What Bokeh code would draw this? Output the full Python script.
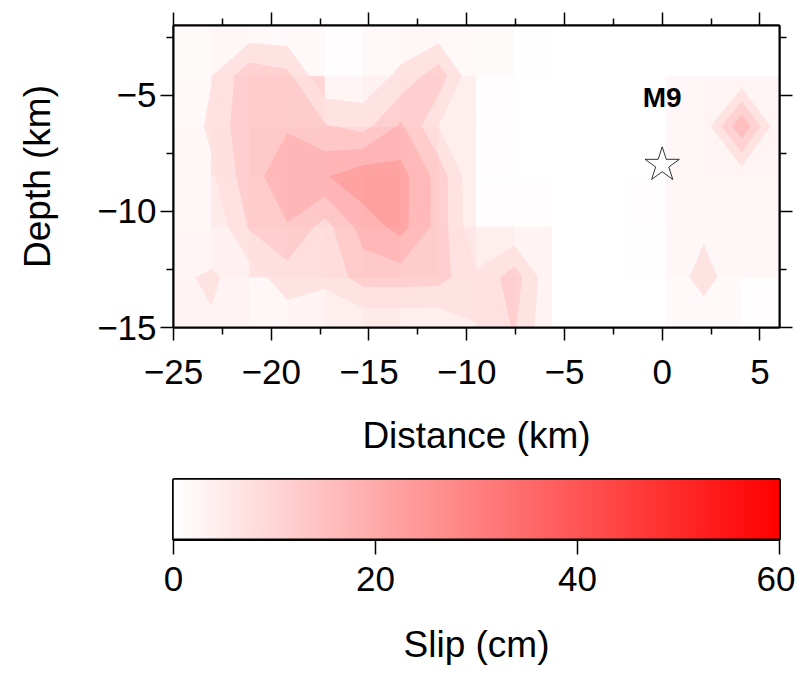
import numpy as np
from bokeh.plotting import figure
from bokeh.models import Range1d, FixedTicker, LinearColorMapper, ColumnDataSource, LinearAxis
from bokeh.layouts import column
from bokeh.transform import linear_cmap
from bokeh.embed import file_html
from bokeh.resources import INLINE
from bokeh.core.properties import value

FONT = "Liberation Sans"

# ---------------- data ----------------
# grid nodes (km)
x_nodes = np.linspace(-25, 6, 17)
depth_nodes = np.linspace(-15, -2, 7)

# slip (cm) at grid nodes, rows from depth -15 (bottom) up to -2 (top)
slip_nodes = [
    [1.5, 4.4, 1.0, 1.7, 1.0, 0.3, 0.3, 0.5, 4.9, 10.5, 0.0, 0.0, 0.0, 0.5, 1.7, 0.5, 0.3],
    [3.9, 5.8, 2.5, 7.7, 6.2, 12.3, 12.4, 12.0, 5.9, 12.5, 0.6, 0.3, 0.5, 1.7, 7.0, 1.5, 0.5],
    [1.0, 0.7, 10.5, 14.7, 8.0, 17.1, 21.8, 13.2, 0.5, 0.6, 0.3, 0.3, 0.5, 2.0, 4.0, 2.0, 0.5],
    [1.0, 4.1, 13.1, 18.0, 19.5, 23.5, 22.0, 13.2, 0.0, 0.3, 0.3, 0.3, 0.5, 1.5, 2.0, 1.5, 0.5],
    [1.0, 6.0, 14.0, 14.5, 10.5, 8.0, 16.0, 5.0, 0.5, 0.3, 0.0, 0.0, 0.3, 1.0, 1.7, 19.5, 0.5],
    [2.0, 4.8, 13.5, 11.5, 0.5, 1.5, 6.2, 13.0, 0.0, 0.0, 0.0, 0.0, 0.0, 0.5, 1.0, 0.5, 0.5],
    [1.0, 1.0, 0.5, 0.5, 0.5, 0.5, 1.0, 0.5, 0.5, 0.3, 0.0, 0.0, 0.0, 0.0, 0.0, 0.0, 0.0],
]

# slip (cm) of the fault patches between nodes, rows from bottom to top
slip_patches = [
    [3.0, 3.0, 2.0, 3.0, 4.0, 5.0, 4.0, 4.0, 5.0, 3.0, 0.0, 0.0, 0.0, 1.5, 1.5, 0.5],
    [2.5, 3.5, 7.0, 10.0, 12.0, 14.0, 10.0, 6.0, 4.0, 3.0, 0.0, 0.0, 0.3, 2.0, 2.0, 2.0],
    [2.0, 5.0, 12.0, 16.0, 18.0, 20.0, 12.0, 4.0, 0.5, 0.5, 0.0, 0.0, 0.7, 2.0, 2.0, 2.0],
    [2.0, 7.0, 14.0, 16.0, 18.0, 18.0, 12.0, 4.0, 0.5, 0.0, 0.0, 0.0, 0.0, 2.0, 2.5, 2.5],
    [1.5, 5.0, 12.0, 10.0, 2.5, 3.5, 6.0, 4.0, 0.5, 0.0, 0.0, 0.0, 0.0, 2.0, 2.5, 2.5],
    [1.2, 2.0, 1.5, 1.5, 0.5, 1.8, 2.0, 1.8, 1.2, 0.3, 0.0, 0.0, 0.0, 0.0, 0.0, 0.0],
]

contour_levels = [5, 10, 15, 20, 25]

event_x = [0.0]
event_depth = [-8.0]
event_label = ["M9"]
label_depth = [-5.1]

x_major = [-25, -20, -15, -10, -5, 0, 5]
x_minor = [-22.5, -17.5, -12.5, -7.5, -2.5, 2.5]
x_tick_labels = ["\u221225", "\u221220", "\u221215", "\u221210", "\u22125", "0", "5"]
y_major = [-15, -10, -5]
y_minor = [-12.5, -7.5, -2.5]
y_tick_labels = ["\u221215", "\u221210", "\u22125"]

cbar_ticks = [0, 20, 40, 60]
cbar_tick_labels = ["0", "20", "40", "60"]

# ---------------- colours ----------------
SLIP_MAX = 60.0


def slip_color(v):
    g = int(round(255 * (1 - v / SLIP_MAX)))
    return "#ff%02x%02x" % (g, g)


palette = [slip_color(v) for v in np.linspace(0, SLIP_MAX, 256)]
mapper = LinearColorMapper(palette=palette, low=0, high=SLIP_MAX)
band_colors = [slip_color((a + b) / 2) for a, b in zip(contour_levels[:-1], contour_levels[1:])]

TICK_FS = "35px"
LABEL_FS = "37px"


def style_axis(ax, labels=True):
    ax.axis_line_width = 2
    ax.axis_line_color = "black"
    ax.major_tick_line_width = 1.5
    ax.minor_tick_line_width = 1.5
    ax.major_tick_line_color = "black"
    ax.minor_tick_line_color = "black"
    ax.major_tick_out = 13
    ax.major_tick_in = 0
    ax.minor_tick_out = 7
    ax.minor_tick_in = 0
    ax.major_label_text_font = FONT
    ax.axis_label_text_font = FONT
    ax.axis_label_text_font_style = "normal"
    ax.axis_label_text_color = "black"
    ax.axis_label_text_font_size = LABEL_FS
    if labels:
        ax.major_label_text_font_size = TICK_FS
        ax.major_label_text_color = "black"
    else:
        ax.major_label_text_font_size = "1px"
        ax.major_label_text_color = None
        ax.major_label_standoff = 0


# ---------------- main panel ----------------
p = figure(
    x_range=Range1d(-25, 6), y_range=Range1d(-15, -2),
    frame_width=606, frame_height=302,
    min_border_left=173, min_border_right=16, min_border_top=25, min_border_bottom=138,
    output_backend="svg", toolbar_location=None,
)
p.grid.visible = False
p.outline_line_color = "black"
p.outline_line_width = 2
p.background_fill_color = "white"

# patches
xs = np.asarray(x_nodes)
ys = np.asarray(depth_nodes)
sp = np.asarray(slip_patches)
L, B = np.meshgrid(xs[:-1], ys[:-1])
R, T = np.meshgrid(xs[1:], ys[1:])
patch_src = ColumnDataSource(dict(left=L.ravel(), right=R.ravel(), bottom=B.ravel(), top=T.ravel(),
                                  slip=sp.ravel()))
cm = linear_cmap("slip", palette, 0, SLIP_MAX)
p.quad(left="left", right="right", bottom="bottom", top="top", source=patch_src,
       fill_color=cm, line_color=cm, line_width=0.6)

# filled contours
p.contour(x=xs, y=ys, z=np.asarray(slip_nodes), levels=contour_levels,
          fill_color=band_colors, fill_alpha=0.85, line_color=None)

# epicentre
p.scatter(x=event_x, y=event_depth, marker="star", size=36, fill_color="white",
          line_color="black", line_width=0.8)
p.text(x=event_x, y=label_depth, text=event_label, text_font=value(FONT), text_font_style="bold",
       text_font_size="28px", text_align="center", text_baseline="middle", text_color="black")

# axes
p.xaxis.ticker = FixedTicker(ticks=x_major, minor_ticks=x_minor)
p.yaxis.ticker = FixedTicker(ticks=y_major, minor_ticks=y_minor)
p.xaxis.major_label_overrides = dict(zip(x_major, x_tick_labels))
p.yaxis.major_label_overrides = dict(zip(y_major, y_tick_labels))
p.xaxis.axis_label = "Distance (km)"
p.yaxis.axis_label = "Depth (km)"
style_axis(p.xaxis[0])
style_axis(p.yaxis[0])
p.xaxis[0].major_label_standoff = 19
p.xaxis[0].axis_label_standoff = 28
p.yaxis[0].major_label_standoff = 4
p.yaxis[0].axis_label_standoff = 36

top_ax = LinearAxis(ticker=FixedTicker(ticks=x_major, minor_ticks=x_minor))
right_ax = LinearAxis(ticker=FixedTicker(ticks=y_major, minor_ticks=y_minor))
style_axis(top_ax, labels=False)
style_axis(right_ax, labels=False)
p.add_layout(top_ax, "above")
p.add_layout(right_ax, "right")

# ---------------- colour bar ----------------
cb = figure(
    x_range=Range1d(cbar_ticks[0], cbar_ticks[-1]), y_range=Range1d(0, 1),
    frame_width=606, frame_height=60,
    min_border_left=173, min_border_right=16, min_border_top=14, min_border_bottom=126,
    output_backend="svg", toolbar_location=None,
)
cb.grid.visible = False
cb.yaxis.visible = False
cb.outline_line_color = "black"
cb.outline_line_width = 3
grad = np.array([np.linspace(cbar_ticks[0], cbar_ticks[-1], 512)])
cb.image(image=[grad], x=cbar_ticks[0], y=0, dw=cbar_ticks[-1] - cbar_ticks[0], dh=1,
         color_mapper=mapper)
cb.xaxis.ticker = FixedTicker(ticks=cbar_ticks, minor_ticks=[])
cb.xaxis.major_label_overrides = dict(zip(cbar_ticks, cbar_tick_labels))
cb.xaxis.axis_label = "Slip (cm)"
style_axis(cb.xaxis[0])
cb.xaxis[0].major_tick_out = 15
cb.xaxis[0].major_label_standoff = 12
cb.xaxis[0].axis_label_standoff = 30

layout = column(p, cb, spacing=0)
open("out.html", "w").write(file_html(layout, INLINE))
